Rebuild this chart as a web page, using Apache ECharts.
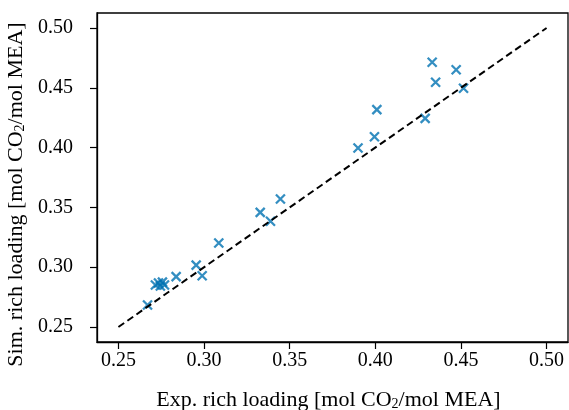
<!DOCTYPE html>
<html>
<head>
<meta charset="utf-8">
<script src="https://cdn.jsdelivr.net/npm/echarts@6/dist/echarts.min.js"></script>
<style>html,body{margin:0;padding:0;background:#fff}#c{width:569px;height:410px}</style>
</head>
<body>
<div id="c"></div>
<script>
const expLoading = [0.267, 0.2716, 0.2734, 0.2745, 0.2757, 0.2769, 0.2837, 0.2954, 0.2989, 0.3086, 0.3328, 0.3388, 0.3446, 0.3899, 0.3995, 0.4009, 0.4291, 0.4332, 0.4352, 0.4472, 0.4515];
const simLoading = [0.2684, 0.2851, 0.2868, 0.2843, 0.2876, 0.2851, 0.2921, 0.3018, 0.2929, 0.3202, 0.3459, 0.3384, 0.3570, 0.3997, 0.4091, 0.4317, 0.4244, 0.4713, 0.4546, 0.4651, 0.4496];
const parityLine = [0.25, 0.50];
const tickValues = [0.25, 0.30, 0.35, 0.40, 0.45, 0.50];
const xTitle = '{n|Exp. rich loading [mol CO}{s|2}{n|/mol MEA]}';
const yTitle = '{n|Sim. rich loading [mol CO}{s|2}{n|/mol MEA]}';
const axisMin = 0.2375, axisMax = 0.5125;

const font = '"Liberation Serif", "DejaVu Serif", serif';
const chart = echarts.init(document.getElementById('c'), null, {renderer: 'canvas'});
function axis(name, gap, pad, labelMargin) {
  return {
    type: 'value', min: axisMin, max: axisMax,
    name: name, nameLocation: 'middle', nameGap: gap,
    nameTextStyle: {fontFamily: font, fontSize: 22, color: '#000', padding: pad,
      rich: {
        n: {fontFamily: font, fontSize: 22, color: '#000', lineHeight: 25, verticalAlign: 'bottom'},
        s: {fontFamily: font, fontSize: 14, color: '#000', lineHeight: 25, verticalAlign: 'bottom'}
      }},
    axisLine: {show: true, lineStyle: {color: '#000', width: 1.3}},
    axisTick: {show: true, inside: false, length: 7, customValues: tickValues, lineStyle: {color: '#000', width: 1.2}},
    axisLabel: {customValues: tickValues, fontFamily: font, fontSize: 20, color: '#000', margin: labelMargin,
      formatter: v => v.toFixed(2)},
    splitLine: {show: false}
  };
}
chart.setOption({
  animation: false,
  grid: {left: 97, right: 1, top: 13, bottom: 68, outerBoundsMode: 'none', containLabel: false,
    show: true, borderColor: '#000', borderWidth: 1.3, backgroundColor: 'transparent'},
  xAxis: axis(xTitle, 44, [0, 8, 0, 0], 9),
  yAxis: axis(yTitle, 68, [0, 34, 0, 0], 24),
  series: [
    {type: 'line', data: parityLine.map(v => [v, v]), symbol: 'none', silent: true,
     lineStyle: {color: '#000', width: 2, type: [7, 4]}, z: 3},
    {type: 'scatter', data: expLoading.map((x, i) => [x, simLoading[i]]),
     symbol: 'path://M0,0L10,10M10,0L0,10', symbolSize: 9,
     itemStyle: {color: 'transparent', borderColor: '#0072B2', borderWidth: 2.3}, z: 2}
  ]
});
</script>
</body>
</html>
